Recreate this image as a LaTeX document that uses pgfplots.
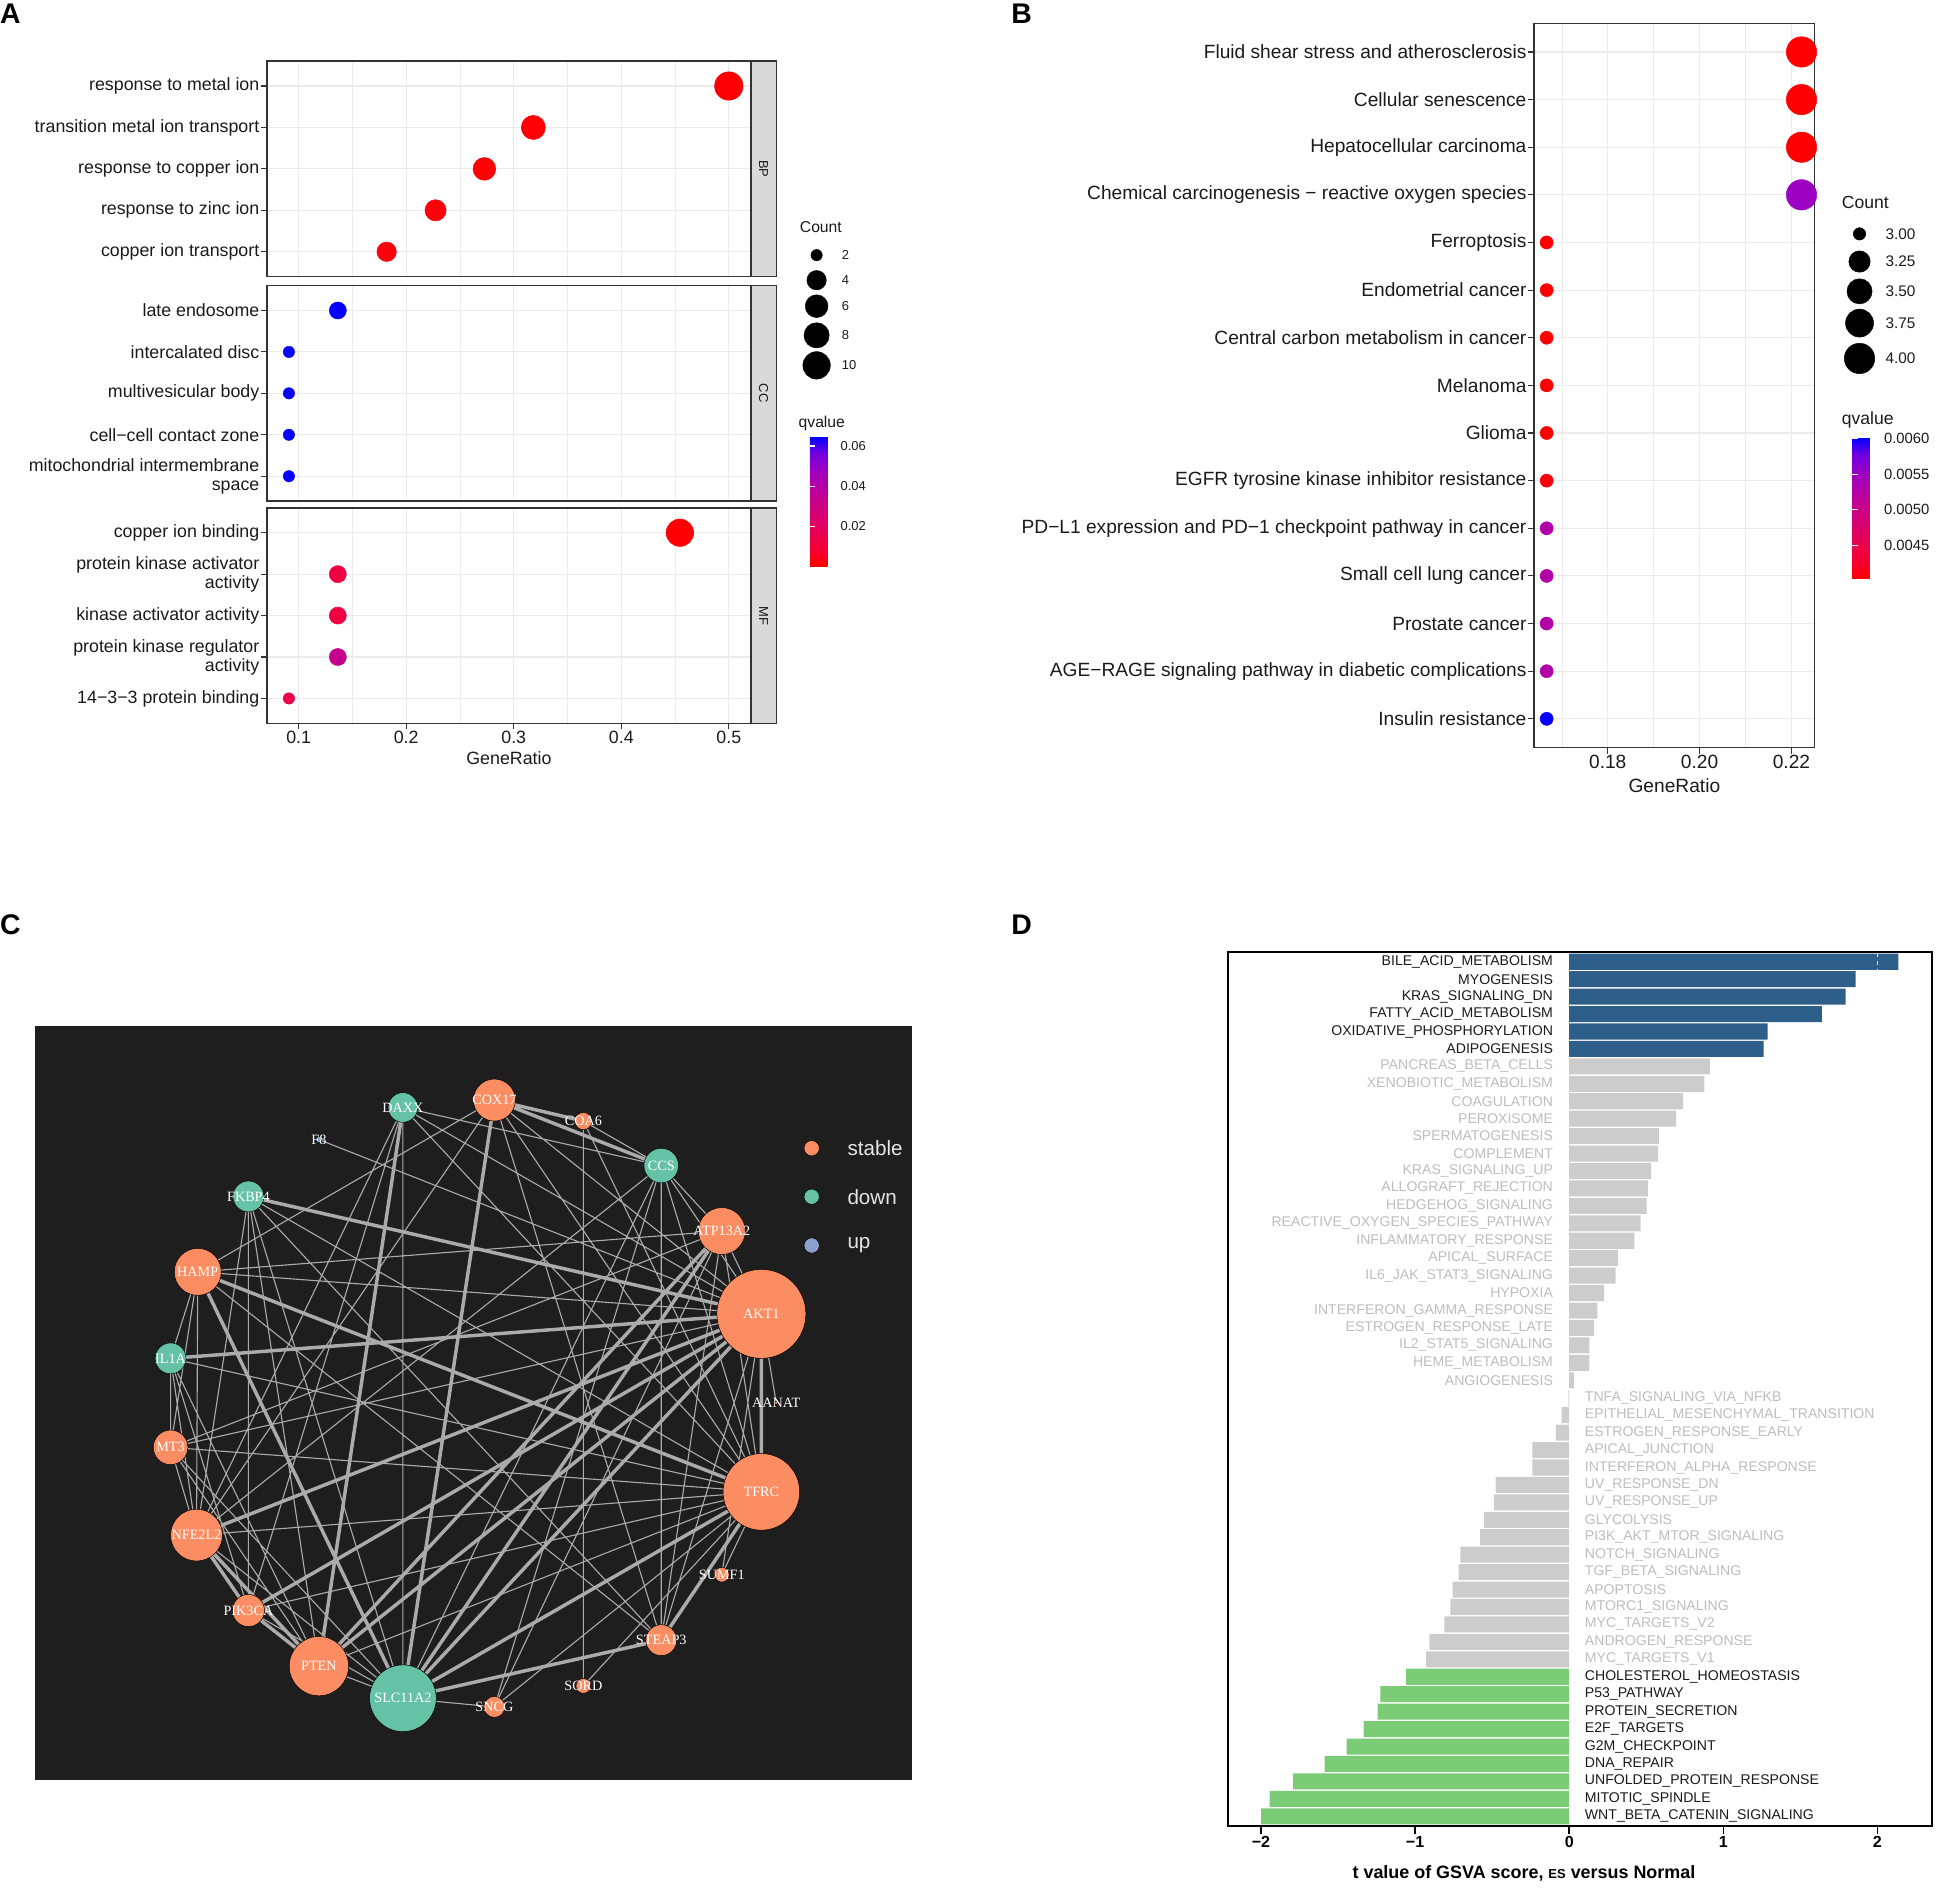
\documentclass[border=0pt]{standalone}
\usepackage{fontspec}
\setmainfont{Liberation Sans}
\newfontfamily\serifnet{Liberation Serif}
\usepackage{pgfplots}
\usepackage{pgfplotstable}
\pgfplotsset{compat=1.18}
\usetikzlibrary{calc}

\definecolor{c20}{HTML}{333333}
\definecolor{gridc}{HTML}{EBEBEB}
\definecolor{stripc}{HTML}{D9D9D9}
\definecolor{txt}{HTML}{1A1A1A}
\definecolor{stableC}{HTML}{FC8D62}
\definecolor{downC}{HTML}{66C2A5}
\definecolor{upC}{HTML}{8DA0CB}
\definecolor{edgeC}{HTML}{ABABAB}
\definecolor{bgC}{HTML}{1E1E1E}
\definecolor{upBar}{HTML}{2E5F8A}
\definecolor{nsBar}{HTML}{CCCCCC}
\definecolor{downBar}{HTML}{7BCB77}
\definecolor{nsTxt}{HTML}{BDBDBD}

\pgfplotsset{
  colormap={qcol}{rgb255=(255,0,0) rgb255=(244,0,49) rgb255=(232,0,79)
    rgb255=(218,0,108) rgb255=(202,0,137) rgb255=(181,0,166)
    rgb255=(154,0,195) rgb255=(115,0,224) rgb255=(0,0,255)},
  dotbase/.style={
    scale only axis, y dir=reverse, clip=false, scaled ticks=false,
    grid=both,
    major grid style={draw=gridc, line width=0.9pt},
    minor grid style={draw=gridc, line width=0.45pt},
    axis line style={draw=c20, line width=1.1pt},
    tick align=outside, tick pos=left,
    major tick length=5pt, minor tick length=0pt,
    tick style={draw=c20, line width=0.9pt},
    colormap name=qcol,
  },
  facetA/.style={dotbase, width=391.5pt, height=174.3pt,
    xmin=0.0705, xmax=0.5205, ymin=0.4, ymax=5.6,
    xtick={0.1,0.2,0.3,0.4,0.5}, minor xtick={0.15,0.25,0.35,0.45},
    ytick={1,2,3,4,5},
    yticklabel style={font=\fontsize{14.4}{15.5}\selectfont, text=txt, align=right, inner xsep=1pt},
    xticklabel style={font=\fontsize{14.4}{15.5}\selectfont, text=txt, inner ysep=1pt},
    point meta min=0, point meta max=0.0645},
  dotsA/.style={scatter, only marks, mark=*, point meta=explicit,
    scatter/use mapped color={draw=mapped color, fill=mapped color},
    visualization depends on={4.6+6.9*sqrt((\thisrow{count}-2)/9) \as \mrad},
    scatter/@pre marker code/.append style={/tikz/mark size=\mrad}},
  dotsB/.style={scatter, only marks, mark=*, point meta=explicit,
    scatter/use mapped color={draw=mapped color, fill=mapped color},
    visualization depends on={5.3+7.0*sqrt(\thisrow{count}-3) \as \mrad},
    scatter/@pre marker code/.append style={/tikz/mark size=\mrad}},
  pxdots/.style={scatter, only marks, mark=*, point meta=explicit,
    scatter/use mapped color={draw=none, fill=#1},
    visualization depends on={1.0*\thisrow{r} \as \mrad},
    scatter/@pre marker code/.append style={/tikz/mark size=\mrad}},
  lab/.style={only marks, mark=*, mark size=0pt, mark options={draw=none, fill=none},
    scatter/use mapped color={draw=none, fill=none},
    point meta=explicit symbolic, nodes near coords},
}

\newcommand\strip[1]{%
  \draw[fill=stripc, draw=c20, line width=1.1pt] (axis description cs:1,0) rectangle (axis description cs:1.0524,1);
  \node[rotate=-90, font=\fontsize{10.5}{11}\selectfont, text=txt] at (axis description cs:1.0262,0.5) {#1};}

% panel A: GO terms
\pgfplotstableread{
x y count q
0.5000 1 11 0.0005
0.3182 2 7 0.0010
0.2727 3 6 0.0010
0.2273 4 5 0.0015
0.1818 5 4 0.0020
}\tabBP
\pgfplotstableread{
x y count q
0.1364 1 3 0.0640
0.0909 2 2 0.0640
0.0909 3 2 0.0640
0.0909 4 2 0.0640
0.0909 5 2 0.0640
}\tabCC
\pgfplotstableread{
x y count q
0.4545 1 10 0.0005
0.1364 2 3 0.0120
0.1364 3 3 0.0120
0.1364 4 3 0.0340
0.0909 5 2 0.0140
}\tabMF

% panel B: KEGG
\pgfplotstableread{
x y count q
0.2222 1 4 0.00404
0.2222 2 4 0.00404
0.2222 3 4 0.00404
0.2222 4 4 0.00550
0.1667 5 3 0.00404
0.1667 6 3 0.00404
0.1667 7 3 0.00404
0.1667 8 3 0.00404
0.1667 9 3 0.00404
0.1667 10 3 0.00408
0.1667 11 3 0.00530
0.1667 12 3 0.00530
0.1667 13 3 0.00530
0.1667 14 3 0.00530
0.1667 15 3 0.00600
}\tabB

% panel C: network nodes
\pgfplotstableread{
x y r label
400 890 17 COX17
472 907 7 COA6
584 996 19 ATP13A2
160 1029 19 HAMP
616 1063 36 AKT1
628 1135 1.5 AANAT
138 1171 14 MT3
616 1207 31 TFRC
159 1242 21 NFE2L2
584 1274 6 SUMF1
201 1303 13 PIK3CA
535 1327 12.5 STEAP3
258 1348 24 PTEN
472 1364 6 SORD
400 1381 8.5 SNCG
}\netStable
\pgfplotstableread{
x y r label
326 896 12 DAXX
535 943 14 CCS
201 968 12.5 FKBP4
138 1099 12.5 IL1A
326 1374 27 SLC11A2
}\netDown
\pgfplotstableread{
x y r label
258 922 2.5 F8
}\netUp

% legends
\pgfplotstableread{
x y r label
660.7 206.4 4.6 2
660.7 226.7 7.85 4
660.7 247.7 9.2 6
660.7 271.3 10.2 8
660.7 295.6 11.1 10
}\legA
\pgfplotstableread{
x y r label
1504.5 189.2 5.0 3.00
1504.5 211.6 8.65 3.25
1504.5 235.7 10.16 3.50
1504.5 261.4 11.32 3.75
1504.5 290.0 12.3 4.00
}\legB
\pgfplotstableread{
x y r label
656.7 929.0 6.2 stable
}\legCs
\pgfplotstableread{
x y r label
656.7 968.2 6.2 down
}\legCd
\pgfplotstableread{
x y r label
656.7 1007.7 6.2 up
}\legCu

% panel D: GSVA t values
\pgfplotstableread{
y x label
1 2.136 BILE\_ACID\_METABOLISM
2 1.858 MYOGENESIS
3 1.793 KRAS\_SIGNALING\_DN
4 1.640 FATTY\_ACID\_METABOLISM
5 1.288 OXIDATIVE\_PHOSPHORYLATION
6 1.261 ADIPOGENESIS
}\dUp
\pgfplotstableread{
y x label
7 0.913 PANCREAS\_BETA\_CELLS
8 0.877 XENOBIOTIC\_METABOLISM
9 0.739 COAGULATION
10 0.694 PEROXISOME
11 0.582 SPERMATOGENESIS
12 0.576 COMPLEMENT
13 0.532 KRAS\_SIGNALING\_UP
14 0.511 ALLOGRAFT\_REJECTION
15 0.502 HEDGEHOG\_SIGNALING
16 0.464 REACTIVE\_OXYGEN\_SPECIES\_PATHWAY
17 0.422 INFLAMMATORY\_RESPONSE
18 0.316 APICAL\_SURFACE
19 0.301 IL6\_JAK\_STAT3\_SIGNALING
20 0.227 HYPOXIA
21 0.183 INTERFERON\_GAMMA\_RESPONSE
22 0.162 ESTROGEN\_RESPONSE\_LATE
23 0.130 IL2\_STAT5\_SIGNALING
24 0.130 HEME\_METABOLISM
25 0.032 ANGIOGENESIS
}\dNsPos
\pgfplotstableread{
y x label
26 -0.005 TNFA\_SIGNALING\_VIA\_NFKB
27 -0.050 EPITHELIAL\_MESENCHYMAL\_TRANSITION
28 -0.086 ESTROGEN\_RESPONSE\_EARLY
29 -0.240 APICAL\_JUNCTION
30 -0.240 INTERFERON\_ALPHA\_RESPONSE
31 -0.478 UV\_RESPONSE\_DN
32 -0.487 UV\_RESPONSE\_UP
33 -0.552 GLYCOLYSIS
34 -0.579 PI3K\_AKT\_MTOR\_SIGNALING
35 -0.706 NOTCH\_SIGNALING
36 -0.718 TGF\_BETA\_SIGNALING
37 -0.757 APOPTOSIS
38 -0.772 MTORC1\_SIGNALING
39 -0.810 MYC\_TARGETS\_V2
40 -0.908 ANDROGEN\_RESPONSE
41 -0.929 MYC\_TARGETS\_V1
}\dNsNeg
\pgfplotstableread{
y x label
42 -1.059 CHOLESTEROL\_HOMEOSTASIS
43 -1.226 P53\_PATHWAY
44 -1.243 PROTEIN\_SECRETION
45 -1.335 E2F\_TARGETS
46 -1.445 G2M\_CHECKPOINT
47 -1.588 DNA\_REPAIR
48 -1.792 UNFOLDED\_PROTEIN\_RESPONSE
49 -1.944 MITOTIC\_SPINDLE
50 -2.000 WNT\_BETA\_CATENIN\_SIGNALING
}\dDown

\begin{document}
\begin{tikzpicture}
\path (0pt,0pt) rectangle (1568pt,-1530pt);

% ---------- overlay in canvas pixels: network (C) and size legends ----------
\begin{axis}[at={(0pt,0pt)}, anchor=north west, scale only axis,
  width=1568pt, height=1530pt, xmin=0, xmax=1568, ymin=0, ymax=1530,
  y dir=reverse, hide axis, clip=false]
\addplot[fill=bgC, draw=none] coordinates {(28,830) (738,830) (738,1440) (28,1440)} -- cycle;
% thin edges
\addplot[draw=edgeC, line width=0.9pt, unbounded coords=jump] coordinates {
(472,907) (535,943) (nan,nan) (326,896) (535,943) (nan,nan)
(326,896) (616,1063) (nan,nan) (326,896) (616,1207) (nan,nan)
(326,896) (159,1242) (nan,nan) (326,896) (326,1374) (nan,nan)
(326,896) (201,1303) (nan,nan) (400,890) (616,1063) (nan,nan)
(400,890) (616,1207) (nan,nan) (400,890) (160,1029) (nan,nan)
(400,890) (159,1242) (nan,nan) (400,890) (535,1327) (nan,nan)
(258,922) (616,1063) (nan,nan) (201,968) (616,1207) (nan,nan)
(201,968) (201,1303) (nan,nan) (201,968) (258,1348) (nan,nan)
(201,968) (159,1242) (nan,nan) (201,968) (326,1374) (nan,nan)
(201,968) (535,1327) (nan,nan) (160,1029) (616,1063) (nan,nan)
(160,1029) (535,1327) (nan,nan) (160,1029) (138,1099) (nan,nan)
(160,1029) (159,1242) (nan,nan) (160,1029) (584,996) (nan,nan)
(160,1029) (138,1171) (nan,nan) (138,1099) (616,1207) (nan,nan)
(138,1099) (138,1171) (nan,nan) (138,1099) (159,1242) (nan,nan)
(138,1099) (201,1303) (nan,nan) (138,1099) (258,1348) (nan,nan)
(138,1171) (616,1063) (nan,nan) (138,1171) (616,1207) (nan,nan)
(138,1171) (159,1242) (nan,nan) (138,1171) (326,1374) (nan,nan)
(138,1171) (584,996) (nan,nan) (138,1171) (258,1348) (nan,nan)
(159,1242) (616,1207) (nan,nan) (159,1242) (326,1374) (nan,nan)
(159,1242) (535,943) (nan,nan) (201,1303) (616,1207) (nan,nan)
(201,1303) (326,1374) (nan,nan) (258,1348) (616,1207) (nan,nan)
(258,1348) (326,1374) (nan,nan) (326,1374) (400,1381) (nan,nan)
(326,1374) (535,943) (nan,nan) (616,1063) (584,996) (nan,nan)
(616,1063) (535,1327) (nan,nan) (616,1063) (584,1274) (nan,nan)
(616,1063) (535,943) (nan,nan) (616,1063) (628,1135) (nan,nan)
(616,1207) (584,1274) (nan,nan) (616,1207) (400,1381) (nan,nan)
(616,1207) (472,1364) (nan,nan) (616,1207) (584,996) (nan,nan)
(616,1207) (535,943) (nan,nan) (584,996) (535,1327) (nan,nan)
(584,996) (400,1381) (nan,nan) (535,943) (535,1327) (nan,nan)
(472,907) (472,1364) (nan,nan) (535,943) (584,996) (nan,nan)
(472,907) (616,1207) (nan,nan) (535,943) (400,1381)
};
% thick edges
\addplot[draw=edgeC, line width=2.8pt, unbounded coords=jump] coordinates {
(400,890) (472,907) (nan,nan) (400,890) (535,943) (nan,nan)
(400,890) (326,1374) (nan,nan) (326,896) (258,1348) (nan,nan)
(201,968) (616,1063) (nan,nan) (160,1029) (616,1207) (nan,nan)
(160,1029) (326,1374) (nan,nan) (138,1099) (616,1063) (nan,nan)
(159,1242) (616,1063) (nan,nan) (159,1242) (201,1303) (nan,nan)
(159,1242) (258,1348) (nan,nan) (201,1303) (616,1063) (nan,nan)
(201,1303) (258,1348) (nan,nan) (258,1348) (616,1063) (nan,nan)
(258,1348) (584,996) (nan,nan) (326,1374) (616,1063) (nan,nan)
(326,1374) (616,1207) (nan,nan) (326,1374) (584,996) (nan,nan)
(326,1374) (535,1327) (nan,nan) (616,1063) (616,1207) (nan,nan)
(616,1207) (535,1327)
};
\addplot[pxdots=stableC] table[x=x, y=y, meta=r] {\netStable};
\addplot[pxdots=downC] table[x=x, y=y, meta=r] {\netDown};
\addplot[pxdots=upC] table[x=x, y=y, meta=r] {\netUp};
\addplot[lab, nodes near coords style={anchor=center, inner sep=0pt, text=white, font=\serifnet\fontsize{11.5}{12}\selectfont}] table[x=x, y=y, meta=label] {\netStable};
\addplot[lab, nodes near coords style={anchor=center, inner sep=0pt, text=white, font=\serifnet\fontsize{11.5}{12}\selectfont}] table[x=x, y=y, meta=label] {\netDown};
\addplot[lab, nodes near coords style={anchor=center, inner sep=0pt, text=white, font=\serifnet\fontsize{11.5}{12}\selectfont}] table[x=x, y=y, meta=label] {\netUp};
% network legend
\addplot[pxdots=stableC] table[x=x, y=y, meta=r] {\legCs};
\addplot[pxdots=downC] table[x=x, y=y, meta=r] {\legCd};
\addplot[pxdots=upC] table[x=x, y=y, meta=r] {\legCu};
\addplot[lab, nodes near coords style={anchor=west, inner sep=0pt, xshift=28.8pt, text=white!90!black, font=\fontsize{16.7}{17}\selectfont}] table[x=x, y=y, meta=label] {\legCs};
\addplot[lab, nodes near coords style={anchor=west, inner sep=0pt, xshift=28.8pt, text=white!90!black, font=\fontsize{16.7}{17}\selectfont}] table[x=x, y=y, meta=label] {\legCd};
\addplot[lab, nodes near coords style={anchor=west, inner sep=0pt, xshift=28.8pt, text=white!90!black, font=\fontsize{16.7}{17}\selectfont}] table[x=x, y=y, meta=label] {\legCu};
% count legends of A and B
\addplot[pxdots=black] table[x=x, y=y, meta=r] {\legA};
\addplot[pxdots=black] table[x=x, y=y, meta=r] {\legB};
\addplot[lab, nodes near coords style={anchor=west, inner sep=0pt, xshift=20.3pt, text=txt, font=\fontsize{10.5}{11}\selectfont}] table[x=x, y=y, meta=label] {\legA};
\addplot[lab, nodes near coords style={anchor=west, inner sep=0pt, xshift=20.9pt, text=txt, font=\fontsize{12.4}{13}\selectfont}] table[x=x, y=y, meta=label] {\legB};
\end{axis}

% ---------- panel A ----------
\begin{axis}[facetA, at={(216pt,-49.5pt)}, anchor=north west,
  yticklabels={response to metal ion, transition metal ion transport, response to copper ion, response to zinc ion, copper ion transport},
  xticklabels={}, xtick style={draw=none}]
\addplot[dotsA] table[x=x, y=y, meta=q] {\tabBP};
\strip{BP}
\end{axis}

\begin{axis}[facetA, at={(216pt,-231.1pt)}, anchor=north west,
  yticklabels={late endosome, intercalated disc, multivesicular body, cell−cell contact zone, {mitochondrial intermembrane\\space}},
  xticklabels={}, xtick style={draw=none},
  colorbar, colorbar style={at={($(parent axis.south east)+(39.2pt,51.9pt)$)}, anchor=north west,
    scale only axis, width=21.3pt, height=105pt, axis line style={draw=none}, scaled ticks=false,
    ytick={0.02,0.04,0.06}, yticklabels={0.02,0.04,0.06},
    yticklabel style={font=\fontsize{10.5}{11}\selectfont, text=txt},
    tick align=inside, ytick pos=both, yticklabel pos=right, major tick length=4.5pt,
    ytick style={draw=white, line width=0.9pt}}]
\addplot[dotsA] table[x=x, y=y, meta=q] {\tabCC};
\strip{CC}
\end{axis}

\begin{axis}[facetA, at={(216pt,-410.9pt)}, anchor=north west,
  yticklabels={copper ion binding, {protein kinase activator\\activity}, kinase activator activity, {protein kinase regulator\\activity}, 14−3−3 protein binding},
  xticklabels={0.1,0.2,0.3,0.4,0.5},
  xlabel={GeneRatio}, xlabel style={font=\fontsize{14.4}{15.5}\selectfont, text=txt,
    at={(axis description cs:0.5,0)}, anchor=north, inner sep=0pt, yshift=-22.8pt}]
\addplot[dotsA] table[x=x, y=y, meta=q] {\tabMF};
\strip{MF}
\end{axis}

\node[anchor=west, inner sep=0pt, text=txt, font=\fontsize{12.7}{13}\selectfont] at (647pt,-183.4pt) {Count};
\node[anchor=west, inner sep=0pt, text=txt, font=\fontsize{12.7}{13}\selectfont] at (646pt,-342.3pt) {qvalue};

% ---------- panel B ----------
\begin{axis}[dotbase, at={(1241.2pt,-18.9pt)}, anchor=north west, width=227pt, height=585.8pt,
  xmin=0.16396, xmax=0.22506, ymin=0.4, ymax=15.6,
  xtick={0.18,0.20,0.22}, xticklabels={0.18,0.20,0.22}, minor xtick={0.17,0.19,0.21},
  ytick={1,...,15},
  yticklabels={Fluid shear stress and atherosclerosis, Cellular senescence, Hepatocellular carcinoma,
    Chemical carcinogenesis − reactive oxygen species, Ferroptosis, Endometrial cancer,
    Central carbon metabolism in cancer, Melanoma, Glioma, EGFR tyrosine kinase inhibitor resistance,
    PD−L1 expression and PD−1 checkpoint pathway in cancer, Small cell lung cancer, Prostate cancer,
    AGE−RAGE signaling pathway in diabetic complications, Insulin resistance},
  yticklabel style={font=\fontsize{15.5}{16}\selectfont, text=txt, inner xsep=1pt},
  xticklabel style={font=\fontsize{15.5}{16}\selectfont, text=txt, inner ysep=1pt},
  xlabel={GeneRatio}, xlabel style={font=\fontsize{15.5}{16}\selectfont, text=txt,
    at={(axis description cs:0.5,0)}, anchor=north, inner sep=0pt, yshift=-25.3pt},
  point meta min=0.004036, point meta max=0.00601,
  colorbar, colorbar style={at={($(parent axis.south east)+(21.8pt,250.6pt)$)}, anchor=north west,
    scale only axis, width=22.3pt, height=114.1pt, axis line style={draw=none}, scaled ticks=false,
    ytick={0.0045,0.005,0.0055,0.006}, yticklabels={0.0045,0.0050,0.0055,0.0060},
    yticklabel style={font=\fontsize{12}{13}\selectfont, text=txt},
    tick align=inside, ytick pos=both, yticklabel pos=right, major tick length=4.5pt,
    ytick style={draw=white, line width=0.9pt}}]
\addplot[dotsB] table[x=x, y=y, meta=q] {\tabB};
\end{axis}

\node[anchor=west, inner sep=0pt, text=txt, font=\fontsize{14.2}{15}\selectfont] at (1490pt,-163.5pt) {Count};
\node[anchor=west, inner sep=0pt, text=txt, font=\fontsize{14.2}{15}\selectfont] at (1490pt,-339.8pt) {qvalue};

% ---------- panel D ----------
\begin{axis}[at={(993.7pt,-770pt)}, anchor=north west, scale only axis, width=569.3pt, height=707.6pt,
  xmin=-2.213, xmax=2.353, ymin=0.426, ymax=50.574, y dir=reverse,
  bar width=0.92, bar shift=0pt, ytick=\empty, scaled ticks=false,
  xtick={-2,-1,0,1,2}, xticklabels={\textbf{−2},\textbf{−1},\textbf{0},\textbf{1},\textbf{2}},
  xticklabel style={font=\fontsize{13}{14}\selectfont, text=black, inner ysep=2pt},
  axis line style={black, line width=1.4pt}, tick align=outside, tick pos=left,
  major tick length=6pt, tick style={black, line width=1.3pt},
  xlabel={\textbf{t value of GSVA score, {\fontsize{10.5}{11}\selectfont ES} versus Normal}},
  xlabel style={font=\fontsize{14.5}{15}\selectfont, text=black,
    at={(axis description cs:0.4203,0)}, anchor=north, inner sep=0pt, yshift=-31.8pt},
  clip=false]
\addplot[xbar, fill=upBar, draw=none] table[x=x, y=y] {\dUp};
\addplot[xbar, fill=nsBar, draw=none] table[x=x, y=y] {\dNsPos};
\addplot[xbar, fill=nsBar, draw=none] table[x=x, y=y] {\dNsNeg};
\addplot[xbar, fill=downBar, draw=none] table[x=x, y=y] {\dDown};
\draw[white, dashed, line width=0.8pt] (axis cs:2,0.54) -- (axis cs:2,1.46);
\addplot[lab, nodes near coords style={anchor=east, inner sep=0pt, xshift=-13pt, text=txt, font=\fontsize{11.4}{12}\selectfont}] table[x expr=0, y=y, meta=label] {\dUp};
\addplot[lab, nodes near coords style={anchor=east, inner sep=0pt, xshift=-13pt, text=nsTxt, font=\fontsize{11.4}{12}\selectfont}] table[x expr=0, y=y, meta=label] {\dNsPos};
\addplot[lab, nodes near coords style={anchor=west, inner sep=0pt, xshift=12.5pt, text=nsTxt, font=\fontsize{11.4}{12}\selectfont}] table[x expr=0, y=y, meta=label] {\dNsNeg};
\addplot[lab, nodes near coords style={anchor=west, inner sep=0pt, xshift=12.5pt, text=txt, font=\fontsize{11.4}{12}\selectfont}] table[x expr=0, y=y, meta=label] {\dDown};
\end{axis}

% panel letters
\node[anchor=north west, inner sep=0pt, font=\bfseries\fontsize{23}{24}\selectfont] at (0pt,-3pt) {A};
\node[anchor=north west, inner sep=0pt, font=\bfseries\fontsize{23}{24}\selectfont] at (818pt,-3pt) {B};
\node[anchor=north west, inner sep=0pt, font=\bfseries\fontsize{23}{24}\selectfont] at (0pt,-740pt) {C};
\node[anchor=north west, inner sep=0pt, font=\bfseries\fontsize{23}{24}\selectfont] at (818pt,-740pt) {D};

\pgfresetboundingbox
\path[use as bounding box] (0pt,0pt) rectangle (1568pt,-1530pt);
\end{tikzpicture}
\end{document}
